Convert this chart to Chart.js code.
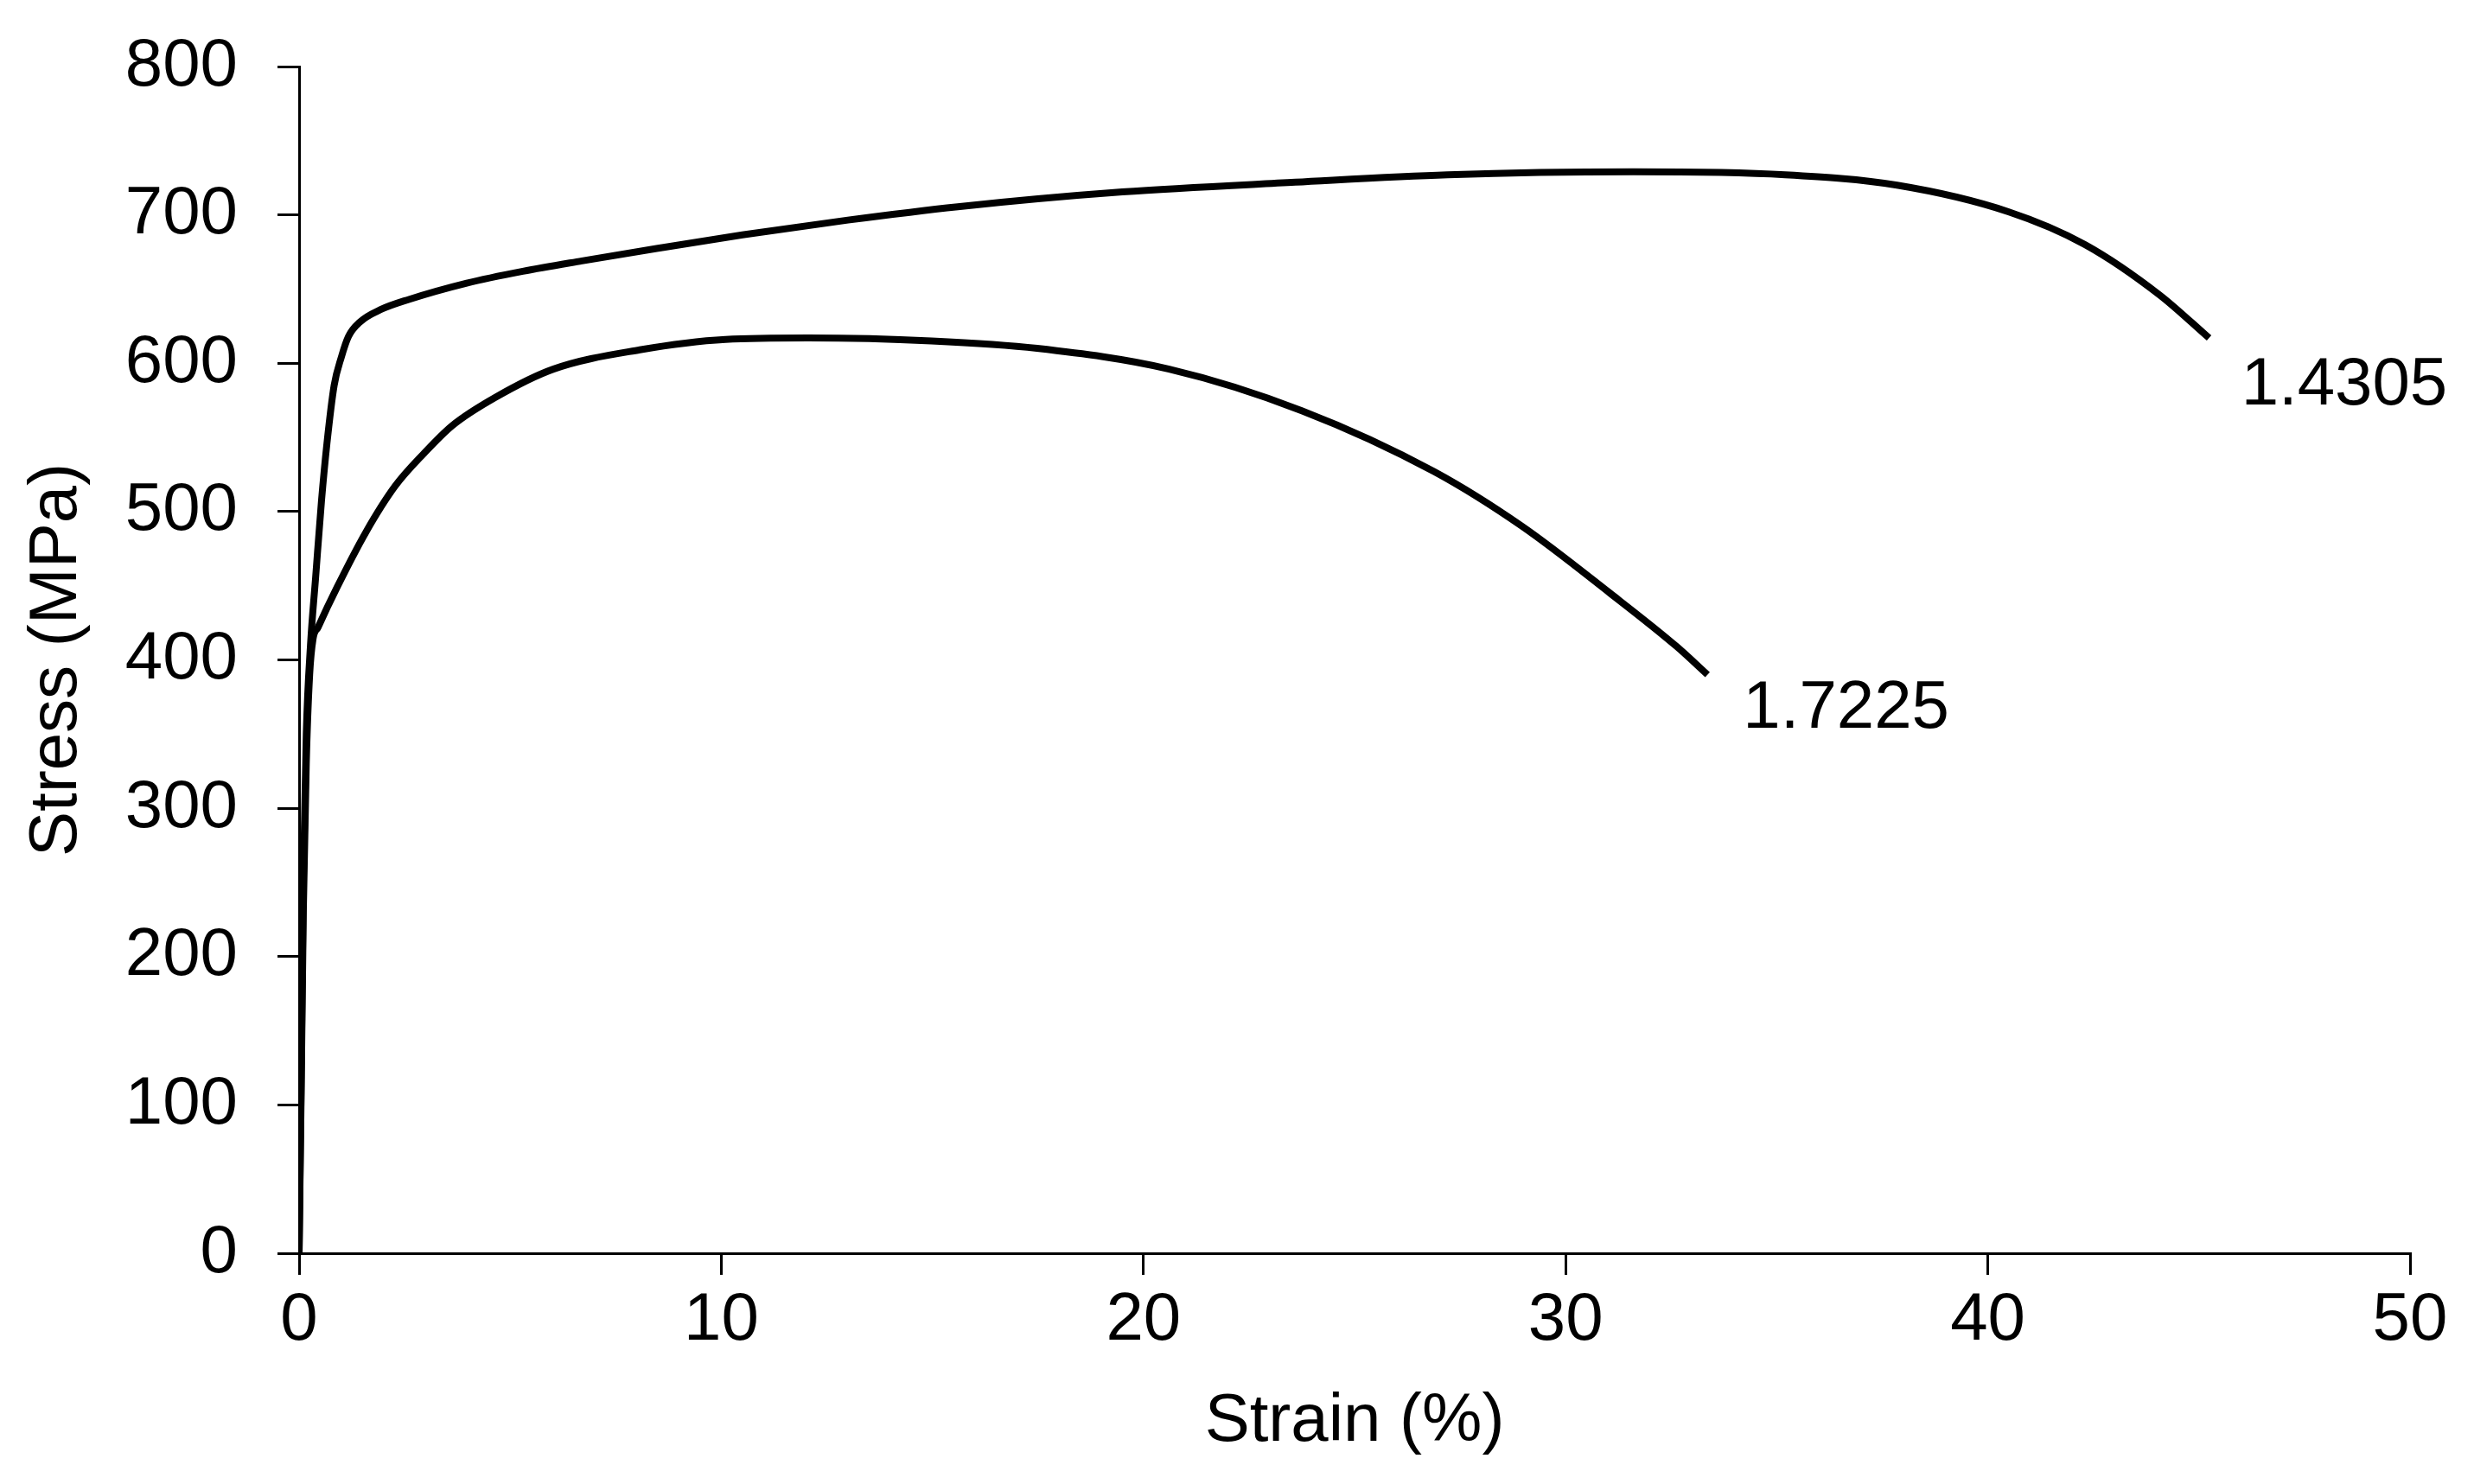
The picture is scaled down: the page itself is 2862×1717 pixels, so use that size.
<!DOCTYPE html>
<html>
<head>
<meta charset="utf-8">
<script src="https://cdn.jsdelivr.net/npm/chart.js@4.4.1/dist/chart.umd.min.js"></script>
<style>
  html, body { margin: 0; padding: 0; background: #fff; }
  canvas { display: block; }
</style>
</head>
<body>
<canvas id="stressChart" width="2862" height="1717"></canvas>
<script>
// 1.4305 (strain %, stress MPa)
const strain14305 = [0, 0.05, 0.1, 0.17, 0.27, 0.39, 0.53, 0.66, 0.83, 1.0, 1.17, 1.45, 1.92, 2.6, 3.97, 5.3, 6.7, 8.5, 10.5, 13.0, 15.6, 19.5, 23.6, 27.2, 31.6, 35.2, 37.85, 40.5, 42.3, 44.07, 45.24];
const stress14305 = [0, 120, 250, 350, 410, 455, 507, 546, 585, 604, 618, 628, 636, 643, 654, 662, 669, 677.5, 686.5, 696.5, 705.5, 715.5, 722, 727, 729, 727, 720, 702, 680, 646, 617];

// 1.7225
const strain17225 = [0, 0.05, 0.1, 0.17, 0.25, 0.33, 0.45, 0.9, 1.58, 2.27, 2.95, 3.63, 4.65, 6.02, 8.07, 10.1, 12.06, 14.98, 17.48, 20.61, 23.75, 26.88, 28.97, 31.05, 32.63, 33.36];
const stress17225 = [0, 110, 230, 330, 390, 414, 422, 449, 486, 517, 539, 558, 577, 596, 609, 616, 617, 615, 610, 596, 568, 527, 490, 445, 409, 390];

// curve labels: [text, strain %, stress MPa] of the text's left baseline
const curveLabels = [
    ['1.4305', 46.0, 572],
    ['1.7225', 34.2, 354]
];

const FONT = '"Liberation Sans", Arial, sans-serif';

const toPoints = (xs, ys) => xs.map((x, i) => ({ x: x, y: ys[i] }));

const curveLabelPlugin = {
    id: 'curveLabels',
    afterDatasetsDraw(chart) {
        const { ctx, scales } = chart;
        ctx.save();
        ctx.font = `78px ${FONT}`;
        ctx.fillStyle = '#000';
        ctx.textAlign = 'left';
        ctx.textBaseline = 'alphabetic';
        curveLabels.forEach(([text, x, y]) => {
            ctx.fillText(text, scales.x.getPixelForValue(x), scales.y.getPixelForValue(y));
        });
        ctx.restore();
    }
};

const lineStyle = {
    showLine: true,
    borderColor: '#000',
    borderWidth: 8,
    pointRadius: 0,
    fill: false,
    cubicInterpolationMode: 'monotone'
};

new Chart(document.getElementById('stressChart'), {
    type: 'scatter',
    data: {
        datasets: [
            Object.assign({ label: '1.4305', data: toPoints(strain14305, stress14305) }, lineStyle),
            Object.assign({ label: '1.7225', data: toPoints(strain17225, stress17225) }, lineStyle)
        ]
    },
    options: {
        responsive: false,
        animation: false,
        devicePixelRatio: 1,
        layout: { padding: { left: 0, right: 74, top: 77, bottom: 0 } },
        plugins: {
            legend: { display: false },
            tooltip: { enabled: false }
        },
        scales: {
            x: {
                type: 'linear',
                min: 0,
                max: 50,
                ticks: { stepSize: 10, color: '#000', font: { family: FONT, size: 78 }, padding: 7, maxRotation: 0 },
                grid: { drawOnChartArea: false, drawTicks: true, tickLength: 25, color: '#000', lineWidth: 3 },
                border: { display: true, color: '#000', width: 3 },
                title: { display: true, text: 'Strain (%)', color: '#000', font: { family: FONT, size: 78 }, padding: { top: 4, bottom: 25 } },
                afterFit(scale) { scale.height = 267; }
            },
            y: {
                type: 'linear',
                min: 0,
                max: 800,
                // small lineHeight keeps the label overflow from pushing the plot down
                ticks: { stepSize: 100, color: '#000', font: { family: FONT, size: 78, lineHeight: 0.4 }, padding: 46 },
                grid: { drawOnChartArea: false, drawTicks: true, tickLength: 25, color: '#000', lineWidth: 3 },
                border: { display: true, color: '#000', width: 3 },
                title: { display: true, text: 'Stress (MPa)', color: '#000', font: { family: FONT, size: 78 }, padding: { top: 20, bottom: 4 } },
                afterFit(scale) { scale.width = 346; }
            }
        }
    },
    plugins: [curveLabelPlugin]
});
</script>
</body>
</html>
